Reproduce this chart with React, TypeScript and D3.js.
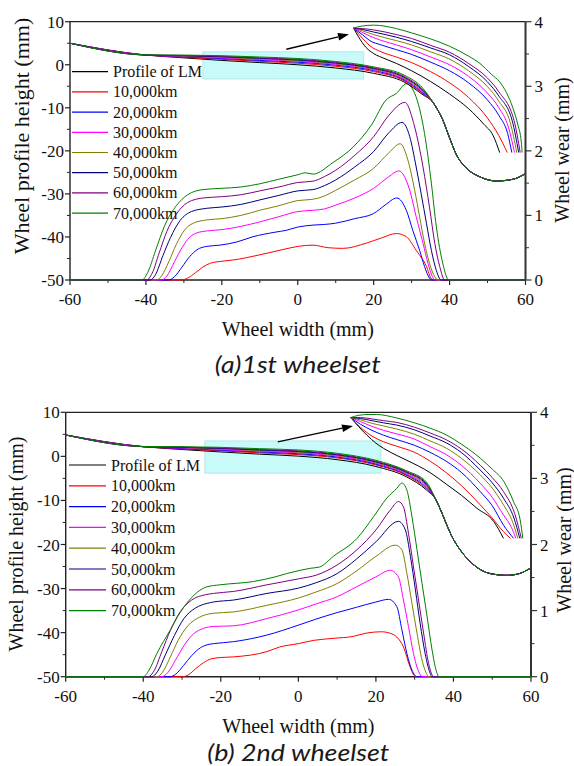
import React from "react";
import * as d3 from "d3";

type Pt = [number, number];

// legend names and colours (same order in every series array below)
const seriesNames = ["Profile of LM", "10,000km", "20,000km", "30,000km", "40,000km", "50,000km", "60,000km", "70,000km"];
const seriesColors = ["#000000", "#ff0000", "#0000ff", "#ff00ff", "#808000", "#000080", "#800080", "#008000"];

const xTicks = [-60, -40, -20, 0, 20, 40, 60];
const yTicks = [10, 0, -10, -20, -30, -40, -50];
const wearTicks = [0, 1, 2, 3, 4];

// ---------- (a) 1st wheelset ----------
const treadX = [-60, -40, -30, -20, -10, 0, 10, 20, 28, 33];
const treadA = [
  [5.0, 2.25, 1.6, 1.0, 0.5, 0.0, -0.75, -2.0, -4.0, -7.0],
  [5.0, 2.25, 1.75, 1.25, 0.8, 0.35, -0.35, -1.6, -3.7, -6.8],
  [5.0, 2.25, 1.85, 1.45, 1.0, 0.6, -0.1, -1.35, -3.5, -6.6],
  [5.0, 2.25, 1.95, 1.6, 1.2, 0.8, 0.1, -1.15, -3.3, -6.4],
  [5.0, 2.25, 2.05, 1.75, 1.35, 0.95, 0.25, -1.0, -3.1, -6.2],
  [5.0, 2.25, 2.1, 1.85, 1.5, 1.1, 0.4, -0.85, -2.9, -6.0],
  [5.0, 2.25, 2.15, 1.95, 1.6, 1.25, 0.55, -0.7, -2.7, -5.8],
  [5.0, 2.3, 2.25, 2.1, 1.8, 1.45, 0.75, -0.5, -2.4, -5.5],
];
const flangeA: Pt[] = [[35.6, -8.7], [37, -10.7], [38.2, -12.8], [40, -17.0], [41.8, -20.9], [44.4, -24.0], [47.9, -26.0], [52.3, -27.0], [56.7, -26.6], [60, -25.3]];

const insetA: Pt[][] = [
  [[14.7, 8.5], [16, 6.5], [18, 4.0], [20, 2.6], [23, 1.4], [26, 0.3], [30, -1.4], [35, -3.9], [40, -6.8], [45, -10.2], [49, -13.8], [51.5, -16.5], [53.2, -20.4]],
  [[14.7, 8.5], [17, 6.2], [19, 4.4], [22, 3.0], [26, 1.8], [30, 0.5], [35, -1.6], [40, -4.2], [45, -7.6], [50, -12.4], [53, -16.5], [55.2, -20.4]],
  [[14.7, 8.5], [17, 7.0], [19, 5.6], [22, 4.6], [26, 3.5], [30, 2.4], [35, 0.6], [40, -1.4], [45, -4.2], [50, -8.2], [53, -11.8], [55.3, -16], [56.4, -20.4]],
  [[14.7, 8.5], [17, 7.5], [20, 6.3], [26, 4.6], [30, 3.5], [35, 1.8], [40, 0], [45, -2.7], [50, -6.6], [53, -10], [55.5, -14.5], [57.1, -20.4]],
  [[14.7, 8.5], [17, 7.9], [20, 7.0], [26, 5.6], [30, 4.6], [35, 3.0], [40, 1.3], [45, -1.4], [50, -5.1], [53, -8.5], [56, -13.5], [57.7, -20.4]],
  [[14.7, 8.5], [17, 8.2], [20, 7.6], [26, 6.4], [30, 5.4], [35, 3.9], [40, 2.3], [45, -0.4], [50, -4.0], [53, -7.3], [56.5, -13], [58.2, -20.4]],
  [[14.7, 8.5], [17, 8.4], [20, 8.1], [26, 7.0], [30, 6.1], [35, 4.5], [40, 2.9], [45, 0.3], [50, -3.1], [53, -6.3], [57, -13], [58.6, -20.4]],
  [[14.7, 8.5], [17, 9.0], [20, 9.2], [26, 8.4], [30, 7.4], [35, 6.0], [40, 4.3], [45, 2.0], [48, 0.3], [51, -2.2], [53.2, -4.0], [55, -6.5], [56.7, -10.1], [58, -14], [58.9, -18], [59.1, -20.4]],
];

// wear (right axis), 10,000km .. 70,000km
const wearA: Pt[][] = [
  [[-60, 0], [-30.6, 0], [-29, 0.03], [-27, 0.11], [-25, 0.2], [-23, 0.26], [-20, 0.29], [-17, 0.31], [-10, 0.39], [-4, 0.47], [0, 0.52], [4, 0.54], [8, 0.5], [12, 0.49], [18, 0.57], [22, 0.65], [26, 0.72], [28.6, 0.67], [31.2, 0.46], [33.9, 0.21], [35.2, 0.02], [36, 0], [60, 0]],
  [[-60, 0], [-34.1, 0], [-32.5, 0.05], [-30.5, 0.2], [-28.5, 0.36], [-26.5, 0.47], [-24, 0.52], [-20.5, 0.54], [-16, 0.59], [-11.8, 0.67], [-6, 0.74], [-3, 0.77], [0, 0.82], [4, 0.85], [7, 0.86], [10, 0.88], [15, 0.95], [20, 1.03], [23, 1.16], [26.1, 1.27], [28.6, 1.08], [30.3, 0.77], [32.1, 0.46], [33.4, 0.21], [34.7, 0.03], [35.3, 0], [60, 0]],
  [[-60, 0], [-35.9, 0], [-34.5, 0.06], [-32.5, 0.28], [-30.5, 0.5], [-28.5, 0.66], [-26, 0.74], [-22, 0.77], [-20, 0.78], [-15, 0.83], [-10, 0.9], [-5, 0.98], [0, 1.06], [4, 1.08], [7, 1.1], [10, 1.16], [15, 1.27], [20, 1.42], [24, 1.6], [26.6, 1.69], [29.5, 1.39], [31.2, 0.98], [33, 0.57], [34.3, 0.26], [35.5, 0.05], [36.1, 0], [60, 0]],
  [[-60, 0], [-37.2, 0], [-35.8, 0.07], [-34, 0.28], [-32, 0.55], [-30, 0.76], [-27.5, 0.88], [-24, 0.93], [-20, 0.95], [-15, 1.0], [-10, 1.08], [-5, 1.15], [0, 1.23], [4, 1.25], [7, 1.3], [10, 1.39], [15, 1.55], [20, 1.73], [24, 1.97], [27, 2.11], [29, 1.86], [30.8, 1.39], [32.1, 0.98], [33.4, 0.57], [34.7, 0.26], [36.1, 0.05], [36.9, 0], [60, 0]],
  [[-60, 0], [-38.9, 0], [-37.5, 0.08], [-35.5, 0.38], [-33.5, 0.66], [-31, 0.92], [-28, 1.06], [-24, 1.11], [-20, 1.13], [-15, 1.17], [-10, 1.24], [-5, 1.31], [0, 1.38], [4, 1.4], [7, 1.46], [10, 1.55], [15, 1.75], [20, 1.99], [24, 2.28], [27.5, 2.44], [29.5, 2.22], [31.2, 1.75], [32.5, 1.34], [33.9, 0.88], [35.2, 0.46], [36.5, 0.15], [37.8, 0], [60, 0]],
  [[-60, 0], [-39.8, 0], [-38.4, 0.1], [-36.5, 0.42], [-34.5, 0.75], [-32, 1.02], [-29, 1.2], [-25, 1.27], [-20, 1.29], [-15, 1.32], [-10, 1.38], [-5, 1.44], [0, 1.51], [4, 1.53], [7, 1.6], [10, 1.7], [15, 1.93], [20, 2.22], [24, 2.55], [28.2, 2.75], [30.8, 2.37], [33.0, 1.75], [34.7, 1.13], [36.1, 0.57], [37.4, 0.21], [38.7, 0], [60, 0]],
  [[-60, 0], [-41.1, 0], [-39.5, 0.12], [-37.5, 0.45], [-35, 0.85], [-32, 1.15], [-29, 1.32], [-25, 1.4], [-20, 1.42], [-15, 1.44], [-10, 1.49], [-5, 1.56], [0, 1.63], [2, 1.66], [4, 1.64], [9.3, 1.82], [14.6, 2.06], [19.4, 2.4], [23.3, 2.79], [26, 2.89], [28.6, 3.04], [30.8, 2.89], [33.4, 2.27], [35.2, 1.5], [36.5, 0.83], [38.2, 0.26], [39.8, 0], [60, 0]],
];

// ---------- (b) 2nd wheelset ----------
const treadB = [
  [4.85, 2.2, 1.55, 1.0, 0.5, 0.05, -0.75, -2.3, -4.7, -7.6],
  [4.85, 2.2, 1.7, 1.25, 0.8, 0.4, -0.35, -1.95, -4.4, -7.35],
  [4.85, 2.2, 1.8, 1.4, 1.0, 0.6, -0.15, -1.75, -4.2, -7.1],
  [4.85, 2.2, 1.9, 1.55, 1.15, 0.8, 0.05, -1.55, -4.0, -6.85],
  [4.85, 2.2, 2.0, 1.7, 1.3, 0.95, 0.2, -1.4, -3.8, -6.6],
  [4.85, 2.2, 2.05, 1.8, 1.45, 1.1, 0.35, -1.25, -3.65, -6.35],
  [4.85, 2.2, 2.1, 1.9, 1.55, 1.25, 0.5, -1.1, -3.5, -6.1],
  [4.85, 2.25, 2.2, 2.05, 1.75, 1.45, 0.7, -0.9, -3.3, -5.8],
];
const flangeB: Pt[] = [[35.5, -9.9], [37, -12.8], [38.3, -15.6], [39.5, -18.0], [41.8, -21.3], [45.2, -24.6], [49.5, -26.6], [53.8, -27.0], [57, -26.6], [60, -25.3]];

const insetB: Pt[][] = [
  [[13.5, 8.8], [15.5, 6.8], [17.7, 4.8], [20, 3.0], [22, 1.8], [25.4, 0.2], [28, -0.9], [34, -3.7], [38.3, -6.4], [42, -8.8], [46.1, -11.8], [50.4, -14.8], [52.9, -18.6]],
  [[13.5, 8.8], [16, 6.6], [19, 4.6], [22, 3.3], [25.4, 2.3], [30, 0.9], [34, -1.1], [38.3, -3.8], [42, -6.6], [46.9, -11.0], [50, -14.0], [52.9, -17.1], [54.7, -18.6]],
  [[13.5, 8.8], [16, 7.3], [19, 5.9], [22, 4.8], [25.4, 3.8], [30, 2.5], [34, 0.9], [38.3, -1.2], [42, -3.6], [46.9, -8.0], [50, -11.2], [52.9, -15.6], [55.5, -18.6]],
  [[13.5, 8.8], [16, 7.9], [19, 6.8], [22, 5.9], [25.4, 5.1], [30, 3.9], [34, 2.2], [38.3, 0.3], [42, -2.0], [46.9, -6.1], [50, -9.3], [52.9, -13.3], [55, -16.2], [56.1, -18.6]],
  [[13.5, 8.8], [16, 8.3], [19, 7.5], [22, 6.9], [25.4, 6.2], [30, 5.0], [34, 3.5], [38.3, 1.8], [42, -0.4], [46.9, -4.2], [50, -7.2], [52.9, -11.0], [55.3, -15], [56.6, -18.6]],
  [[13.5, 8.8], [16, 8.6], [19, 8.1], [22, 7.6], [25.4, 7.1], [30, 6.0], [34, 4.6], [38.3, 3.0], [42, 0.9], [46.9, -3.1], [50, -6.0], [52.9, -9.5], [55.6, -14], [57.1, -18.6]],
  [[13.5, 8.8], [16, 8.8], [19, 8.5], [22, 8.1], [25.4, 7.7], [30, 6.6], [34, 5.3], [38.3, 3.7], [42, 1.7], [46.9, -2.0], [50, -4.8], [52.9, -8.0], [55.8, -13], [57.5, -18.6]],
  [[13.5, 8.8], [15.5, 9.3], [18, 9.5], [20.2, 9.5], [25.4, 8.7], [30, 7.6], [34, 6.4], [38.3, 4.8], [42, 2.8], [46.9, -0.4], [50, -2.9], [53, -5.7], [55.5, -10.3], [57.2, -14.4], [57.9, -18.6]],
];

const wearB: Pt[][] = [
  [[-60, 0], [-29.8, 0], [-28.3, 0.03], [-26.5, 0.12], [-24.5, 0.21], [-22.5, 0.27], [-20, 0.29], [-16.7, 0.3], [-8.1, 0.38], [-4.8, 0.45], [0, 0.5], [4, 0.55], [9, 0.58], [14.2, 0.61], [17.6, 0.66], [21.5, 0.68], [23.5, 0.66], [25.4, 0.6], [27.1, 0.45], [28.8, 0.15], [29.8, 0.02], [30.3, 0], [60, 0]],
  [[-60, 0], [-33.1, 0], [-31.6, 0.04], [-29.6, 0.17], [-27.5, 0.32], [-25.2, 0.44], [-23, 0.49], [-21.9, 0.5], [-16.7, 0.53], [-8.1, 0.63], [0, 0.78], [4.5, 0.87], [10, 0.97], [15, 1.05], [20, 1.13], [23.3, 1.17], [25.4, 1.06], [26.7, 0.71], [28, 0.35], [29.3, 0.1], [30.6, 0], [60, 0]],
  [[-60, 0], [-35.2, 0], [-33.7, 0.06], [-31.7, 0.25], [-29.5, 0.47], [-27, 0.65], [-24.5, 0.73], [-21.9, 0.76], [-16.7, 0.77], [-8.1, 0.88], [0, 1.01], [4.5, 1.1], [10, 1.21], [15, 1.36], [20, 1.51], [23.7, 1.61], [25.8, 1.51], [27.1, 1.16], [28.4, 0.76], [29.7, 0.35], [31, 0.08], [32, 0], [60, 0]],
  [[-60, 0], [-36.5, 0], [-35, 0.07], [-33, 0.3], [-31, 0.55], [-28.5, 0.77], [-25.5, 0.9], [-23, 0.95], [-21.9, 0.96], [-16.7, 0.98], [-8.1, 1.08], [0, 1.19], [4.5, 1.28], [10, 1.41], [15, 1.6], [20, 1.82], [25, 1.99], [26.7, 1.92], [28, 1.56], [29.3, 1.11], [30.6, 0.66], [31.9, 0.25], [33.2, 0.03], [33.5, 0], [60, 0]],
  [[-60, 0], [-37.8, 0], [-36.3, 0.08], [-34.3, 0.33], [-32, 0.62], [-29.5, 0.88], [-26.5, 1.04], [-23.5, 1.11], [-21.9, 1.13], [-16.7, 1.16], [-8.1, 1.26], [0, 1.34], [4.5, 1.42], [10, 1.56], [15, 1.78], [20, 2.04], [25.8, 2.35], [27.6, 2.22], [28.9, 1.82], [30.2, 1.31], [31.4, 0.81], [32.7, 0.35], [34, 0.05], [34.4, 0], [60, 0]],
  [[-60, 0], [-38.7, 0], [-37.2, 0.09], [-35.2, 0.38], [-33, 0.7], [-30.5, 0.98], [-27.5, 1.16], [-24, 1.24], [-21.9, 1.26], [-16.7, 1.29], [-8.1, 1.39], [0, 1.48], [4.8, 1.54], [10, 1.69], [15.1, 1.92], [20, 2.22], [23.7, 2.52], [25.8, 2.65], [27.1, 2.57], [28.4, 2.17], [29.7, 1.66], [31, 1.16], [32.3, 0.66], [33.6, 0.2], [34.9, 0], [60, 0]],
  [[-60, 0], [-40, 0], [-38.5, 0.1], [-36.5, 0.35], [-33.1, 0.7], [-30.5, 0.97], [-28.8, 1.11], [-26, 1.28], [-23.6, 1.36], [-20.2, 1.39], [-11.6, 1.44], [-6, 1.51], [-3, 1.56], [0.5, 1.61], [3.1, 1.64], [5.5, 1.66], [9, 1.82], [15.1, 2.09], [19.4, 2.42], [22.8, 2.7], [25.4, 2.85], [26.7, 2.93], [28, 2.82], [29.3, 2.42], [30.6, 1.92], [31.9, 1.41], [33.2, 0.91], [34.5, 0.4], [35.3, 0.15], [36.3, 0], [60, 0]],
];

type PanelProps = {
  left: number; right: number; top: number; bottom: number;
  tread: number[][]; flange: Pt[]; inset: Pt[][]; wear: Pt[][];
  box: [number, number, number, number];
  arrow: [Pt, Pt];
  legendTop: number; legendStep: number; legendX: [number, number, number];
  yLabelX: number; yLabelY: number; yLabelSize: number;
  wLabelX: number; wLabelY: number;
  title: string; titleY: number; titleLen: number;
};

function Panel(p: PanelProps) {
  const x = d3.scaleLinear().domain([-60, 60]).range([p.left, p.right]);
  const y = d3.scaleLinear().domain([-50, 10]).range([p.bottom, p.top]);
  const yw = d3.scaleLinear().domain([0, 4]).range([p.bottom, p.top]);
  const lineL = d3.line<Pt>().x((d) => x(d[0])).y((d) => y(d[1])).curve(d3.curveMonotoneX);
  const lineW = d3.line<Pt>().x((d) => x(d[0])).y((d) => yw(d[1])).curve(d3.curveMonotoneX);

  const profiles: Pt[][] = p.tread.map((row) => [...treadX.map((xv, i) => [xv, row[i]] as Pt), ...p.flange]);

  const [a0, a1] = p.arrow;
  const ax0 = x(a0[0]), ay0 = y(a0[1]), ax1 = x(a1[0]), ay1 = y(a1[1]);
  const ang = Math.atan2(ay1 - ay0, ax1 - ax0);
  const hl = 11, hw = 3.8;
  const bx = ax1 - hl * Math.cos(ang), by = ay1 - hl * Math.sin(ang);
  const head = `${ax1},${ay1} ${bx - hw * Math.sin(ang)},${by + hw * Math.cos(ang)} ${bx + hw * Math.sin(ang)},${by - hw * Math.cos(ang)}`;

  const axisColor = "#222";
  const serif = "'Liberation Serif', 'Times New Roman', serif";
  const tickFont = { fontFamily: serif, fontSize: 17, fill: "#111" };

  return (
    <g>
      <rect x={x(p.box[0])} y={y(p.box[1])} width={x(p.box[2]) - x(p.box[0])} height={y(p.box[3]) - y(p.box[1])}
        fill="#c8fafa" stroke="#a6e4e4" strokeWidth={0.8} />

      {/* frame */}
      <line x1={p.left} x2={p.right} y1={p.top} y2={p.top} stroke={axisColor} strokeWidth={1.2} />
      <line x1={p.left} x2={p.right} y1={p.bottom} y2={p.bottom} stroke={axisColor} strokeWidth={1.4} />
      <line x1={p.left} x2={p.left} y1={p.top} y2={p.bottom} stroke={axisColor} strokeWidth={1.4} />
      <line x1={p.right} x2={p.right} y1={p.top} y2={p.bottom} stroke="#333" strokeWidth={2} />

      {xTicks.map((t) => (
        <g key={"xt" + t}>
          <line x1={x(t)} x2={x(t)} y1={p.bottom} y2={p.bottom + 5} stroke={axisColor} strokeWidth={1.2} />
          <text x={x(t)} y={p.bottom + 25} textAnchor="middle" {...tickFont}>{t}</text>
        </g>
      ))}
      {xTicks.slice(0, -1).map((t) => (
        <line key={"xm" + t} x1={x(t + 10)} x2={x(t + 10)} y1={p.bottom} y2={p.bottom + 3} stroke={axisColor} strokeWidth={1} />
      ))}
      {yTicks.map((t) => (
        <g key={"yt" + t}>
          <line x1={p.left - 5} x2={p.left} y1={y(t)} y2={y(t)} stroke={axisColor} strokeWidth={1.2} />
          <text x={p.left - 6} y={y(t) + 6} textAnchor="end" {...tickFont}>{t}</text>
        </g>
      ))}
      {yTicks.slice(1).map((t) => (
        <line key={"ym" + t} x1={p.left - 3} x2={p.left} y1={y(t + 5)} y2={y(t + 5)} stroke={axisColor} strokeWidth={1} />
      ))}
      {wearTicks.map((t) => (
        <g key={"wt" + t}>
          <line x1={p.right} x2={p.right + 6} y1={yw(t)} y2={yw(t)} stroke="#333" strokeWidth={1.2} />
          <text x={p.right + 9} y={yw(t) + 6} textAnchor="start" {...tickFont}>{t}</text>
        </g>
      ))}
      {wearTicks.slice(0, -1).map((t) => (
        <line key={"wm" + t} x1={p.right} x2={p.right + 3.5} y1={yw(t + 0.5)} y2={yw(t + 0.5)} stroke="#333" strokeWidth={1} />
      ))}

      {/* wear curves */}
      {p.wear.map((s, i) => (
        <path key={"w" + i} d={lineW(s) || ""} fill="none" stroke={seriesColors[i + 1]} strokeWidth={1} />
      ))}
      {/* profile curves */}
      {profiles.map((s, i) => (
        <path key={"p" + i} d={lineL(s) || ""} fill="none" stroke={seriesColors[i]} strokeWidth={1} />
      ))}
      {/* magnified curves */}
      {p.inset.map((s, i) => (
        <path key={"i" + i} d={lineL(s) || ""} fill="none" stroke={seriesColors[i]} strokeWidth={1} />
      ))}

      <line x1={ax0} y1={ay0} x2={bx} y2={by} stroke="#000" strokeWidth={1.3} />
      <polygon points={head} fill="#000" />

      {/* legend */}
      {seriesNames.map((n, i) => {
        const ry = p.legendTop + i * p.legendStep;
        return (
          <g key={"lg" + i}>
            <line x1={p.legendX[0]} x2={p.legendX[1]} y1={ry} y2={ry} stroke={seriesColors[i]} strokeWidth={1.2} />
            <text x={p.legendX[2]} y={ry + 5.5} fontFamily={serif} fontSize={16} fill="#111">{n}</text>
          </g>
        );
      })}

      <text transform={`translate(${p.yLabelX},${p.yLabelY}) rotate(-90)`} textAnchor="middle"
        fontFamily={serif} fontSize={p.yLabelSize} fill="#111">Wheel profile height (mm)</text>
      <text transform={`translate(${p.wLabelX},${p.wLabelY}) rotate(-90)`} textAnchor="middle"
        fontFamily={serif} fontSize={20} fill="#111">Wheel wear (mm)</text>
      <text x={(p.left + p.right) / 2} y={p.bottom + 56} textAnchor="middle"
        fontFamily={serif} fontSize={20} fill="#111">Wheel width (mm)</text>
      <text x={(p.left + p.right) / 2} y={p.titleY} textAnchor="middle" textLength={p.titleLen} lengthAdjust="spacingAndGlyphs"
        fontFamily="Lato, 'Open Sans', sans-serif" fontStyle="italic" fontSize={24} fill="#1a1a1a">{p.title}</text>
    </g>
  );
}

export default function App() {
  return (
    <svg width={574} height={766} style={{ position: "absolute", left: 0, top: 0, background: "#fff" }}>
      <Panel left={70} right={525.5} top={21.7} bottom={280}
        tread={treadA} flange={flangeA} inset={insetA} wear={wearA}
        box={[-25, 3, 17.4, -3.3]} arrow={[[-3.0, 3.6], [13.5, 7.1]]}
        legendTop={71.7} legendStep={20.2} legendX={[72, 108, 113]}
        yLabelX={29} yLabelY={136} yLabelSize={22}
        wLabelX={569} wLabelY={150}
        title="(a)1st wheelset" titleY={373} titleLen={166} />
      <Panel left={65.7} right={531} top={412.3} bottom={676.7}
        tread={treadB} flange={flangeB} inset={insetB} wear={wearB}
        box={[-24.1, 3.5, 21.3, -3.8]} arrow={[[-5.3, 3.3], [14.1, 6.9]]}
        legendTop={465} legendStep={20.8} legendX={[69, 106, 111]}
        yLabelX={23} yLabelY={544} yLabelSize={20}
        wLabelX={571} wLabelY={540}
        title="(b) 2nd wheelset" titleY={761} titleLen={182} />
    </svg>
  );
}
